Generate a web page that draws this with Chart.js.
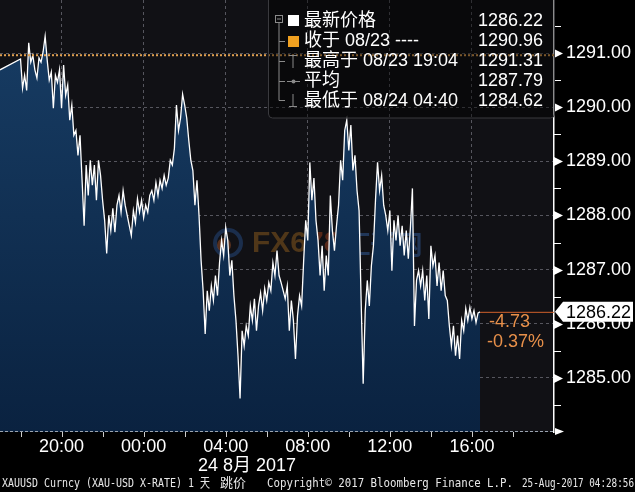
<!DOCTYPE html>
<html>
<head>
<meta charset="utf-8">
<script src="https://cdn.jsdelivr.net/npm/chart.js@4.4.0/dist/chart.umd.min.js"></script>
<style>
html, body { margin: 0; padding: 0; background: #000; }
canvas { display: block; }
</style>
</head>
<body>
<canvas id="goldChart" width="635" height="492"></canvas>
<script>
// 時間軸：以 08/23 17:00 為 0 小時
const preGapPoint = { x: 0, y: 1290.69 };   // 17:00 收市前
const sessionStart = 1;                      // 18:00 重新開市
const stepHours = 0.1;                       // 每 6 分鐘一個報價

const prices = [
    1290.89, 1290.35, 1290.59, 1290.31, 1291.19, 1290.83, 1290.96, 1290.69, 1290.54, 1290.91,
    1290.83, 1291.02, 1291.31, 1290.87, 1290.50, 1290.65, 1289.98, 1290.59, 1290.46, 1290.69,
    1289.98, 1290.78, 1290.22, 1290.41, 1289.76, 1290.04, 1289.48, 1289.57, 1289.11, 1289.48,
    1288.65, 1287.81, 1288.93, 1288.37, 1289.02, 1288.56, 1288.93, 1288.28, 1289.02, 1288.74,
    1288.28, 1287.91, 1287.30, 1288.00, 1287.72, 1288.13, 1287.69, 1288.19, 1288.37, 1288.06,
    1288.46, 1288.19, 1288.00, 1287.81, 1287.63, 1288.09, 1287.87, 1288.31, 1288.06, 1288.28,
    1287.96, 1288.19, 1288.06, 1288.37, 1288.46, 1288.28, 1288.61, 1288.37, 1288.65, 1288.50,
    1288.74, 1288.56, 1288.69, 1289.02, 1288.93, 1289.24, 1290.04, 1289.57, 1289.80, 1290.24,
    1290.04, 1289.80, 1289.39, 1289.02, 1288.83, 1288.19, 1288.65, 1288.00, 1287.17, 1286.61,
    1285.81, 1286.61, 1286.24, 1286.70, 1286.43, 1286.89, 1286.52, 1287.13, 1287.54, 1287.26,
    1287.78, 1287.54, 1286.89, 1287.17, 1286.52, 1286.06, 1285.41, 1284.62, 1285.87, 1285.59,
    1285.96, 1285.78, 1286.33, 1286.06, 1286.46, 1285.87, 1286.33, 1286.57, 1286.24, 1286.65,
    1286.43, 1286.76, 1286.61, 1287.13, 1286.89, 1287.35, 1286.89, 1286.76, 1286.61, 1286.46,
    1286.70, 1285.87, 1286.43, 1286.06, 1285.35, 1286.15, 1286.52, 1286.33, 1287.17, 1287.91,
    1287.54, 1288.98, 1288.28, 1288.69, 1287.91, 1287.54, 1286.89, 1287.44, 1286.61, 1287.26,
    1286.89, 1288.37, 1287.72, 1287.35, 1287.81, 1288.19, 1289.02, 1288.65, 1289.57, 1289.76,
    1289.20, 1289.67, 1288.83, 1289.11, 1288.46, 1288.09, 1286.43, 1284.89, 1286.24, 1286.80,
    1286.33, 1287.07, 1287.44, 1288.28, 1288.98, 1288.46, 1288.74, 1288.19, 1288.00, 1287.72,
    1288.09, 1286.98, 1287.91, 1287.54, 1288.00, 1287.44, 1287.81, 1287.26, 1287.72, 1287.20,
    1287.76, 1288.50, 1285.96, 1286.80, 1286.98, 1286.70, 1286.98, 1286.43, 1286.89, 1286.09,
    1287.44, 1287.07, 1287.26, 1286.70, 1287.13, 1286.61, 1286.98, 1286.52, 1286.43, 1285.96,
    1285.59, 1285.96, 1285.41, 1285.78, 1285.35, 1286.06, 1285.87, 1286.28, 1286.06, 1286.30,
    1286.09, 1286.24, 1286.02, 1286.20, 1286.22
];

const xTickHours = [3, 7, 11, 15, 19, 23];
const xTickLabels = ['20:00', '00:00', '04:00', '08:00', '12:00', '16:00'];
const xMinorHours = [1, 5, 9, 13, 17, 21, 25];
const yTickValues = [1284.5, 1285, 1285.5, 1286, 1286.5, 1287, 1287.5, 1288, 1288.5, 1289, 1289.5, 1290, 1290.5, 1291, 1291.5];

const lastPrice = 1286.22;
const prevClose = 1290.96;
const changeText = ['-4.73', '-0.37%'];
const dateLabel = '24 8月 2017';

const legendRows = [
    { label: '最新价格', value: '1286.22' },
    { label: '收于 08/23 ----', value: '1290.96' },
    { label: '最高于 08/23 19:04', value: '1291.31' },
    { label: '平均', value: '1287.79' },
    { label: '最低于 08/24 04:40', value: '1284.62' }
];

const footerParts = [
    { text: 'XAUUSD Curncy (XAU-USD X-RATE) 1 天', x: 2, w: 208 },
    { text: '跳价', x: 220, w: 30 },
    { text: 'Copyright© 2017 Bloomberg Finance L.P.', x: 267, w: 246 },
    { text: '25-Aug-2017 04:28:56', x: 522, w: 112 }
];

const FONT = '"Liberation Sans", "Noto Sans CJK SC", sans-serif';
const GRID = '#56565e';

// 組合成圖表需要的點
const points = [preGapPoint];
prices.forEach((p, i) => points.push({ x: sessionStart + i * stepHours, y: p }));

const backgroundPlugin = {
    id: 'background',
    beforeDraw(chart) {
        const { ctx, chartArea: a } = chart;
        ctx.save();
        ctx.fillStyle = '#000';
        ctx.fillRect(0, 0, chart.width, chart.height);
        ctx.fillStyle = '#111115';
        ctx.fillRect(a.left, a.top, a.right - a.left, a.bottom - a.top);
        ctx.restore();
    },
    beforeDatasetsDraw(chart) {
        // 浮水印
        const ctx = chart.ctx;
        ctx.save();
        ctx.globalAlpha = 0.4;
        ctx.lineWidth = 4;
        ctx.strokeStyle = '#2a5aa0';
        ctx.beginPath();
        ctx.arc(228, 243, 13, 0, Math.PI * 2);
        ctx.stroke();
        ctx.fillStyle = '#c0602a';
        ctx.beginPath();
        ctx.arc(224, 245, 7, 0, Math.PI * 2);
        ctx.fill();
        ctx.font = 'bold 30px ' + FONT;
        ctx.textBaseline = 'middle';
        ctx.fillStyle = '#b07020';
        ctx.fillText('FX6', 252, 244);
        const w = ctx.measureText('FX6').width;
        ctx.fillStyle = '#c04a20';
        ctx.fillText('78', 252 + w, 244);
        const w2 = ctx.measureText('78').width;
        ctx.fillStyle = '#3a70c0';
        ctx.font = 'bold 26px "Noto Sans CJK SC", sans-serif';
        ctx.fillText('汇通网', 256 + w + w2, 244);
        ctx.restore();
    }
};

const overlayPlugin = {
    id: 'overlay',
    afterDatasetsDraw(chart) {
        const { ctx, chartArea: a, scales: { x, y } } = chart;
        ctx.save();

        // 前收盤橙色點線
        const yc = y.getPixelForValue(prevClose);
        ctx.strokeStyle = '#e0a050';
        ctx.lineWidth = 2;
        ctx.setLineDash([2, 2]);
        ctx.beginPath();
        ctx.moveTo(a.left, yc);
        ctx.lineTo(a.right, yc);
        ctx.stroke();
        ctx.setLineDash([]);

        // 最新價格線
        const yl = y.getPixelForValue(lastPrice);
        const xl = x.getPixelForValue(points[points.length - 1].x);
        ctx.strokeStyle = '#d0602c';
        ctx.lineWidth = 1;
        ctx.beginPath();
        ctx.moveTo(xl, yl + 0.5);
        ctx.lineTo(a.right, yl + 0.5);
        ctx.stroke();

        // 漲跌
        ctx.fillStyle = '#e8904a';
        ctx.font = '18px ' + FONT;
        ctx.textBaseline = 'middle';
        ctx.textAlign = 'left';
        ctx.fillText(changeText[0], 489, 322);
        ctx.fillText(changeText[1], 487, 342);

        // Y 軸刻度與三角形
        ctx.fillStyle = '#fff';
        ctx.strokeStyle = '#fff';
        yTickValues.forEach(v => {
            const py = Math.round(y.getPixelForValue(v)) + 0.5;
            if (Number.isInteger(v)) {
                ctx.beginPath();
                ctx.moveTo(a.right, py - 4.5);
                ctx.lineTo(a.right + 9, py);
                ctx.lineTo(a.right, py + 4.5);
                ctx.closePath();
                ctx.fill();
            } else {
                ctx.beginPath();
                ctx.moveTo(a.right, py);
                ctx.lineTo(a.right + 7, py);
                ctx.stroke();
            }
        });

        // X 軸線
        ctx.strokeStyle = '#9aa4b0';
        ctx.setLineDash([3, 2]);
        ctx.beginPath();
        ctx.moveTo(a.left, a.bottom - 0.5);
        ctx.lineTo(a.right, a.bottom - 0.5);
        ctx.stroke();
        ctx.setLineDash([]);
        ctx.fillStyle = '#fff';
        ctx.beginPath();
        ctx.moveTo(a.right + 1, a.bottom - 4);
        ctx.lineTo(a.right + 10, a.bottom - 0.5);
        ctx.lineTo(a.right + 1, a.bottom + 3);
        ctx.closePath();
        ctx.fill();
        ctx.strokeStyle = '#ccc';
        xTickHours.concat(xMinorHours).forEach(h => {
            const px = Math.round(x.getPixelForValue(h)) + 0.5;
            ctx.beginPath();
            ctx.moveTo(px, a.bottom);
            ctx.lineTo(px, a.bottom + 5);
            ctx.stroke();
        });
        ctx.restore();
    },
    afterDraw(chart) {
        const { ctx, chartArea: a, scales: { y } } = chart;
        ctx.save();

        // 最新價格標籤
        const yl = y.getPixelForValue(lastPrice);
        ctx.fillStyle = '#fff';
        ctx.beginPath();
        ctx.moveTo(a.right + 1, yl);
        ctx.lineTo(a.right + 9, yl - 10);
        ctx.lineTo(633, yl - 10);
        ctx.lineTo(633, yl + 10);
        ctx.lineTo(a.right + 9, yl + 10);
        ctx.closePath();
        ctx.fill();
        ctx.fillStyle = '#000';
        ctx.font = '18px ' + FONT;
        ctx.textBaseline = 'middle';
        ctx.textAlign = 'left';
        ctx.fillText(lastPrice.toFixed(2), 566, yl + 1);

        // 圖例框
        ctx.fillStyle = 'rgba(0, 0, 0, 0.45)';
        ctx.strokeStyle = '#3a3a3e';
        ctx.lineWidth = 1;
        ctx.beginPath();
        ctx.roundRect(268.5, -4, 286, 122, 4);
        ctx.fill();
        ctx.stroke();

        // 樹狀線
        ctx.strokeStyle = '#8a8a8a';
        ctx.strokeRect(275.5, 15.5, 7, 7);
        ctx.beginPath();
        ctx.moveTo(277, 19); ctx.lineTo(281, 19);
        ctx.moveTo(279, 23); ctx.lineTo(279, 100.5);
        ctx.lineTo(285, 100.5);
        [41.5, 61.5, 81.5].forEach(ry => { ctx.moveTo(279, ry); ctx.lineTo(285, ry); });
        // 最高
        ctx.moveTo(289, 55.5); ctx.lineTo(297, 55.5);
        ctx.moveTo(293, 55.5); ctx.lineTo(293, 68);
        // 平均
        ctx.moveTo(287, 81.5); ctx.lineTo(300, 81.5);
        // 最低
        ctx.moveTo(293, 94); ctx.lineTo(293, 106.5);
        ctx.moveTo(289, 106.5); ctx.lineTo(297, 106.5);
        ctx.stroke();
        ctx.fillStyle = '#8a8a8a';
        ctx.beginPath();
        ctx.arc(293.5, 81.5, 2, 0, Math.PI * 2);
        ctx.fill();

        ctx.fillStyle = '#fff';
        ctx.fillRect(288, 15, 11, 11);
        ctx.fillStyle = '#f0a020';
        ctx.fillRect(288, 36, 11, 11);

        ctx.font = '18px ' + FONT;
        legendRows.forEach((row, i) => {
            const ry = 21 + i * 20;
            ctx.fillStyle = '#fff';
            ctx.textAlign = 'left';
            ctx.fillText(row.label, 304, ry);
            ctx.textAlign = 'right';
            ctx.fillText(row.value, 543, ry);
        });

        // 日期
        ctx.textAlign = 'center';
        ctx.fillStyle = '#fff';
        ctx.fillText(dateLabel, 247, 466);

        // 頁腳
        ctx.font = '13px "DejaVu Sans Mono", "Noto Sans CJK SC", monospace';
        ctx.textAlign = 'left';
        ctx.fillStyle = '#e8e8e8';
        footerParts.forEach(p => ctx.fillText(p.text, p.x, 484, p.w));
        ctx.restore();
    }
};

const ctx = document.getElementById('goldChart').getContext('2d');
window.goldChart = new Chart(ctx, {
    type: 'line',
    data: {
        datasets: [{
            data: points,
            borderColor: '#ffffff',
            borderWidth: 1.3,
            pointRadius: 0,
            tension: 0,
            fill: 'start',
            backgroundColor: function(context) {
                const area = context.chart.chartArea;
                if (!area) return '#0c2a4a';
                const g = context.chart.ctx.createLinearGradient(0, area.top, 0, area.bottom);
                g.addColorStop(0, '#183e66');
                g.addColorStop(1, '#0a2240');
                return g;
            }
        }]
    },
    options: {
        responsive: false,
        animation: false,
        devicePixelRatio: 1,
        layout: { padding: 0 },
        plugins: {
            legend: { display: false },
            tooltip: { enabled: false }
        },
        scales: {
            x: {
                type: 'linear',
                min: 0,
                max: 27,
                afterBuildTicks: s => { s.ticks = xTickHours.map(v => ({ value: v })); },
                afterFit: s => {
                    s.height = 60;
                    s.paddingLeft = 0;
                    s.paddingRight = 0;
                },
                ticks: {
                    color: '#fff',
                    font: { size: 18, family: FONT },
                    padding: 4,
                    maxRotation: 0,
                    autoSkip: false,
                    callback: v => xTickLabels[xTickHours.indexOf(v)]
                },
                grid: { color: GRID, lineWidth: 1, drawTicks: false },
                border: { display: false, dash: [3, 3] }
            },
            y: {
                position: 'right',
                min: 1284,
                max: 1291.98,
                afterBuildTicks: s => { s.ticks = yTickValues.map(v => ({ value: v })); },
                afterFit: s => {
                    s.width = 81;
                    s.paddingTop = 0;
                    s.paddingBottom = 0;
                },
                ticks: {
                    color: '#fff',
                    font: { size: 18, family: FONT },
                    padding: 12,
                    callback: v => Number.isInteger(v) ? v.toFixed(2) : ''
                },
                grid: {
                    drawTicks: false,
                    color: c => (c.tick && Number.isInteger(c.tick.value)) ? GRID : 'rgba(0,0,0,0)'
                },
                border: { display: true, color: '#ffffff', width: 1.5, dash: [3, 3] }
            }
        }
    },
    plugins: [backgroundPlugin, overlayPlugin]
});
</script>
</body>
</html>
